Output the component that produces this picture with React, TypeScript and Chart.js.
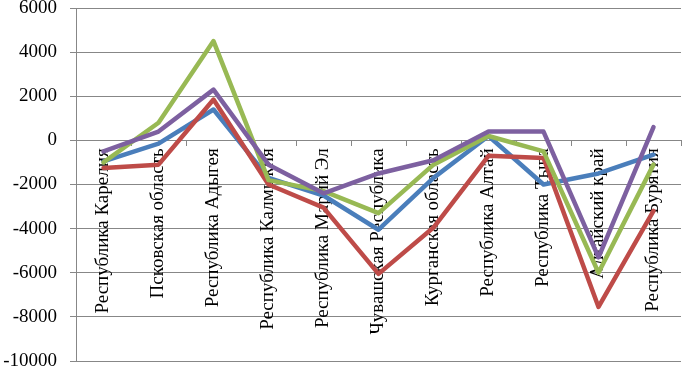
import React, { useEffect, useRef } from "react";
import { Chart, registerables } from "chart.js";

Chart.register(...registerables);

const categories = [
  "Республика Карелия",
  "Псковская область",
  "Республика Адыгея",
  "Республика Калмыкия",
  "Республика Марий Эл",
  "Чувашская Республика",
  "Курганская область",
  "Республика Алтай",
  "Республика Тыва",
  "Алтайский край",
  "Республика Бурятия",
];

const seriesBlue = [-950, -150, 1400, -1700, -2500, -4050, -1700, 200, -2000, -1500, -650];
const seriesRed = [-1250, -1100, 1850, -2000, -3050, -6050, -3950, -700, -800, -7550, -3200];
const seriesGreen = [-1000, 800, 4500, -1800, -2300, -3300, -1100, 200, -500, -6000, -1100];
const seriesPurple = [-500, 400, 2300, -1100, -2400, -1500, -900, 400, 400, -5300, 600];

const yTicks = [6000, 4000, 2000, 0, -2000, -4000, -6000, -8000, -10000];

const FONT = "'Liberation Serif', 'Times New Roman', serif";
const GRID = "#878787";

export default function App() {
  const ref = useRef<HTMLCanvasElement | null>(null);

  useEffect(() => {
    if (!ref.current) return;
    const mk = (data: number[], color: string, order: number) => ({
      data,
      borderColor: color,
      backgroundColor: color,
      borderWidth: 4.5,
      pointRadius: 0,
      tension: 0,
      borderJoinStyle: "round" as const,
      borderCapStyle: "round" as const,
      order,
      clip: false as const,
    });
    const chart = new Chart(ref.current, {
      type: "line",
      data: {
        labels: categories,
        datasets: [
          mk(seriesBlue, "#4A7EBB", 3),
          mk(seriesRed, "#BE4B48", 2),
          mk(seriesGreen, "#98B954", 1),
          mk(seriesPurple, "#7D60A0", 0),
        ],
      },
      options: {
        animation: false,
        responsive: false,
        devicePixelRatio: 1,
        layout: { padding: { left: 0, top: 8, right: 1, bottom: 8 } },
        plugins: { legend: { display: false }, tooltip: { enabled: false } },
        scales: {
          x: {
            type: "category",
            position: { y: 0 } as any,
            offset: true,
            grid: {
              display: true,
              offset: true,
              drawOnChartArea: false,
              drawTicks: true,
              tickLength: 5,
              color: GRID,
            },
            border: { display: true, color: GRID, width: 1 },
            ticks: {
              autoSkip: false,
              minRotation: 90,
              maxRotation: 90,
              padding: 3,
              color: "#000",
              font: { family: FONT, size: 19 },
            },
            afterFit: (s: any) => {
              s.paddingLeft = 0;
              s.paddingRight = 0;
              s.paddingTop = 0;
              s.paddingBottom = 0;
            },
          },
          y: {
            min: -10000,
            max: 6000,
            afterBuildTicks: (s: any) => {
              s.ticks = yTicks.map((v) => ({ value: v }));
            },
            grid: { color: GRID, tickLength: 6, drawTicks: true },
            border: { display: true, color: GRID, width: 1 },
            ticks: {
              padding: 13,
              color: "#000",
              font: { family: FONT, size: 19 },
              callback: (v: any) => String(v),
            },
            afterFit: (s: any) => {
              s.width = 76;
              s.paddingTop = 0;
              s.paddingBottom = 0;
            },
          },
        },
      },
    });
    return () => chart.destroy();
  }, []);

  return (
    <div style={{ position: "fixed", left: 0, top: 0, width: 682, height: 369, background: "#fff" }}>
      <canvas ref={ref} width={682} height={369} style={{ display: "block" }} />
    </div>
  );
}
